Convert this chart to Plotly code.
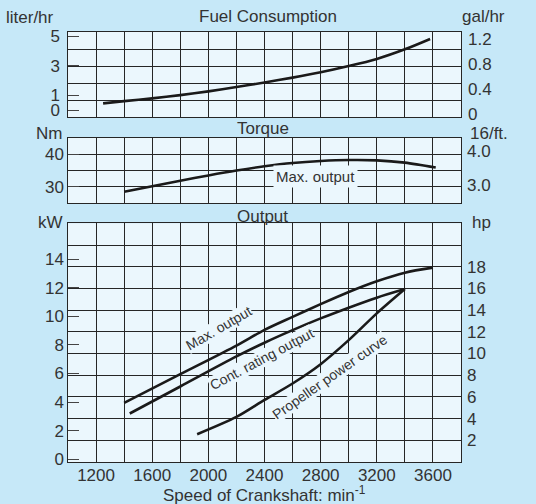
import plotly.graph_objects as go

# ---------------- data ----------------
rpm_fuel = [1250, 1400, 1600, 1800, 2000, 2200, 2400, 2600, 2800, 3000, 3200, 3400, 3580]
fuel_lph = [0.47, 0.62, 0.81, 1.03, 1.28, 1.57, 1.88, 2.21, 2.57, 2.99, 3.47, 4.12, 4.82]

rpm_torque = [1400, 1600, 1800, 2000, 2200, 2400, 2600, 2800, 3000, 3200, 3400, 3620]
torque_nm = [28.5, 30.2, 31.9, 33.5, 35.0, 36.3, 37.3, 37.9, 38.2, 38.1, 37.4, 35.9]

rpm_max = [1400, 1800, 2200, 2400, 2600, 2800, 3000, 3200, 3400, 3600]
kw_max = [3.94, 5.95, 7.95, 9.05, 9.96, 10.85, 11.7, 12.45, 13.05, 13.4]

rpm_cont = [1440, 1800, 2200, 2400, 2600, 2800, 3000, 3200, 3400]
kw_cont = [3.2, 5.09, 7.19, 8.15, 9.03, 9.85, 10.6, 11.3, 11.9]

rpm_prop = [1920, 2200, 2400, 2600, 2800, 3000, 3200, 3400]
kw_prop = [1.75, 2.96, 4.15, 5.3, 6.65, 8.33, 10.2, 11.9]

x_tick_vals = [1200, 1600, 2000, 2400, 2800, 3200, 3600]
x_tick_text = ["1200", "1600", "2000", "2400", "2800", "3200", "3600"]
liter_ticks = [0, 1, 3, 5]
gal_ticks = [0, 0.4, 0.8, 1.2]
gal_text = ["0", "0.4", "0.8", "1.2"]
nm_ticks = [30, 40]
kgfm_ticks = [3.0, 4.0]
kgfm_text = ["3.0", "4.0"]
kw_ticks = [0, 2, 4, 6, 8, 10, 12, 14]
hp_ticks = [2, 4, 6, 8, 10, 12, 14, 16, 18]

# ---------------- style ----------------
W, H = 536, 504
ML, MR, MT, MB = 68, 75, 32, 42
PW, PH = W - ML - MR, H - MT - MB
BG = "#c6e8f8"
PBG = "#ebf7fd"
GRID = "#262626"
TXT = "#333333"
LINE = "#1a1a1a"
FONT = "Liberation Sans, Arial, sans-serif"


def px(xp, yp):
    return (xp - ML) / PW, (MT + PH - yp) / PH


fig = go.Figure()

# empty traces so that every helper / label axis belongs to a subplot
for xa, ya in [("x", "y"), ("x", "y3"), ("x2", "y4"), ("x2", "y6"), ("x3", "y7"), ("x3", "y9")]:
    fig.add_trace(go.Scatter(x=[None], y=[None], xaxis=xa, yaxis=ya, mode="lines",
                             hoverinfo="skip", showlegend=False))

curve = dict(color=LINE, width=2.6, shape="spline", smoothing=0.8)
fig.add_trace(go.Scatter(x=rpm_fuel, y=fuel_lph, xaxis="x", yaxis="y2", mode="lines",
                         line=curve, hoverinfo="skip", showlegend=False))
fig.add_trace(go.Scatter(x=rpm_torque, y=torque_nm, xaxis="x2", yaxis="y5", mode="lines",
                         line=curve, hoverinfo="skip", showlegend=False))
for xs, ys in [(rpm_max, kw_max), (rpm_cont, kw_cont), (rpm_prop, kw_prop)]:
    fig.add_trace(go.Scatter(x=xs, y=ys, xaxis="x3", yaxis="y8", mode="lines",
                             line=curve, hoverinfo="skip", showlegend=False))

d_fuel = [px(0, 117.3)[1], 1.0]
d_torque = [px(0, 203.3)[1], px(0, 137.7)[1]]
d_out = [0.0, px(0, 223.3)[1]]

grid_rpm = list(range(1000, 3801, 200))
grid_txt = [x_tick_text[x_tick_vals.index(v)] if v in x_tick_vals else "" for v in grid_rpm]

tickfont = dict(family=FONT, size=17, color=TXT)

xcommon = dict(range=[1000, 3800], tickmode="array", tickvals=grid_rpm, ticktext=grid_txt,
               showgrid=True, gridcolor=GRID, gridwidth=1,
               showline=True, mirror=True, linecolor=GRID, linewidth=1,
               zeroline=False, ticks="", automargin=False,
               tickfont=tickfont)


def gridaxis(domain, anchor, rng, step):
    return dict(domain=domain, anchor=anchor, range=rng, tickmode="linear", tick0=rng[0],
                dtick=step, showgrid=True, gridcolor=GRID, gridwidth=1,
                showticklabels=False, showline=True, mirror=True, linecolor=GRID,
                linewidth=1, zeroline=False, ticks="", automargin=False)


def labelaxis(over, side, anchor, rng, vals, text=None, inside=False, standoff=0):
    d = dict(overlaying=over, side=side, anchor=anchor, range=rng, tickmode="array",
             tickvals=vals, showgrid=False, zeroline=False, showline=False,
             tickfont=tickfont, automargin=False, ticklabelstandoff=standoff)
    if text is not None:
        d["ticktext"] = text
    if inside:
        d.update(ticks="inside", ticklen=11, tickcolor="#444", tickwidth=1.2)
    else:
        d.update(ticks="")
    return d


layout = dict(
    template="none",
    width=W, height=H,
    margin=dict(l=ML, r=MR, t=MT, b=MB, autoexpand=False),
    paper_bgcolor=BG, plot_bgcolor=PBG,
    font=dict(family=FONT, size=17, color=TXT),
    showlegend=False,
    xaxis=dict(xcommon, anchor="y", showticklabels=False),
    xaxis2=dict(xcommon, anchor="y4", showticklabels=False),
    xaxis3=dict(xcommon, anchor="y7", showticklabels=True, ticklabelstandoff=-2),
    yaxis=gridaxis(d_fuel, "x", [0, 5], 1),
    yaxis2=labelaxis("y", "left", "x", [-0.47, 5.29], liter_ticks, inside=True, standoff=7),
    yaxis3=labelaxis("y", "right", "x", [-0.048, 1.318], gal_ticks, gal_text, standoff=6),
    yaxis4=gridaxis(d_torque, "x2", [25, 45], 5),
    yaxis5=labelaxis("y4", "left", "x2", [25, 45], nm_ticks, inside=True, standoff=3),
    yaxis6=labelaxis("y4", "right", "x2", [2.44, 4.41], kgfm_ticks, kgfm_text, standoff=5),
    yaxis7=gridaxis(d_out, "x3", [0, 22], 2),
    yaxis8=labelaxis("y7", "left", "x3", [-0.19, 16.5], kw_ticks, inside=True, standoff=3),
    yaxis9=labelaxis("y7", "right", "x3", [0, 22], hp_ticks, standoff=5),
)
fig.update_layout(**layout)

annots = []


def ptxt(text, xp, yp, size=17):
    x, y = px(xp, yp)
    annots.append(dict(text=text, x=x, y=y, xref="paper", yref="paper",
                       xanchor="center", yanchor="middle", showarrow=False,
                       font=dict(family=FONT, size=size, color=TXT)))


ptxt("liter/hr", 30, 18)
ptxt("Fuel Consumption", 268, 17)
ptxt("gal/hr", 484, 17)
ptxt("Nm", 49, 133)
ptxt("Torque", 263, 128)
ptxt("16/ft.", 489, 133)
ptxt("kW", 50, 222)
ptxt("Output", 262, 216)
ptxt("hp", 481, 222)
ptxt("Speed of Crankshaft: min<sup>-1</sup>", 264, 493.5)


def dtxt(text, x, y, xr, yr, angle=0, size=14, pad=0):
    annots.append(dict(text=text, x=x, y=y, xref=xr, yref=yr, xanchor="center",
                       yanchor="middle", showarrow=False, textangle=angle,
                       bgcolor=PBG, borderpad=pad,
                       font=dict(family=FONT, size=size, color=TXT)))


dtxt("Max. output", 2764, 33.1, "x2", "y5", 0, 15, 2)
dtxt("Max. output", 2075, 9.2, "x3", "y8", -30)
dtxt("Cont. rating output", 2380, 7.02, "x3", "y8", -28)
dtxt("Propeller power curve", 2865, 5.72, "x3", "y8", -35)

fig.update_layout(annotations=annots)
fig.write_html("out.html", config={"displayModeBar": False},
               post_script="document.body.style.margin='0';")
